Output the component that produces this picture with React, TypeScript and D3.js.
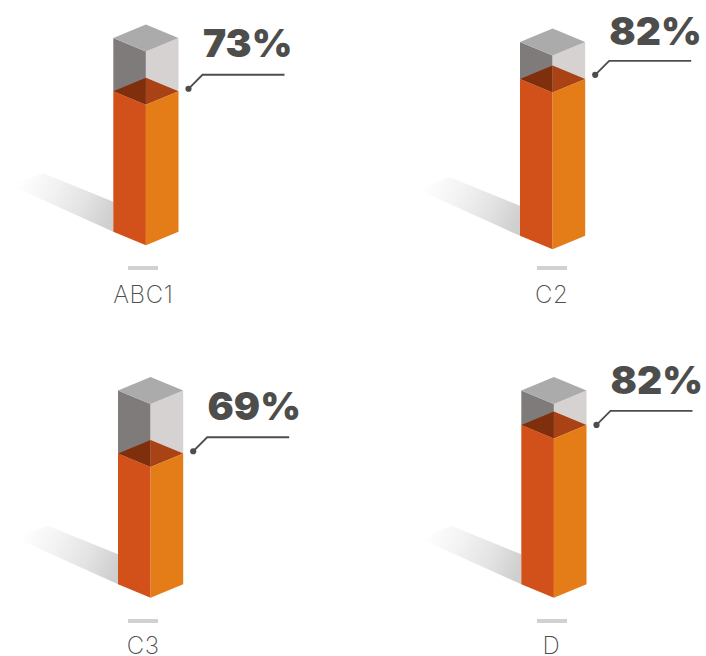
import React from "react";
import * as d3 from "d3";

const categories = ["ABC1", "C2", "C3", "D"];
const percentLabels = ["73%", "82%", "69%", "82%"];
// fill level of each column, in percent of the column height
const fillLevels = [72.6, 80.9, 67.5, 82.3];

// anchor layout of each small multiple: left edge of column and y of the lowest corner
const originX = [113.3, 520, 118, 521.3];
const originY = [245.3, 249.3, 597.8, 597.8];
const labelX = [143.3, 551.7, 143.3, 551.3];
const labelY = [302.6, 302.6, 654.4, 654.4];
const dashX = [143, 552, 143, 552];
const dashY = [268, 268, 621, 621];
const pctX = [203, 609.3, 207.5, 610.5];
const pctY = [56.8, 44.6, 420, 394.2];
const dotOffset = [-2.4, -4.3, -2.3, 0];

const COL_W = 32.6;
const DROP = 13.5;
const H = 193.7;

const heightScale = d3.scaleLinear().domain([0, 100]).range([0, H]);
const line = d3.line<[number, number]>();
const poly = (pts: [number, number][]) => line(pts) + "Z";

function Bar({ i }: { i: number }) {
  const x0 = originX[i];
  const xm = x0 + COL_W;
  const x1 = xm + COL_W;
  const yb = originY[i];
  const face = (low: number, up: number, left: boolean): [number, number][] =>
    left
      ? [[x0, yb - DROP - low], [xm, yb - low], [xm, yb - up], [x0, yb - DROP - up]]
      : [[xm, yb - low], [x1, yb - DROP - low], [x1, yb - DROP - up], [xm, yb - up]];
  const cap = (h: number): [number, number][] => [
    [x0, yb - DROP - h], [xm, yb - 2 * DROP - h], [x1, yb - DROP - h], [xm, yb - h],
  ];
  const fill = heightScale(fillLevels[i]);
  const ty = yb - fill - DROP;
  const dotY = ty + dotOffset[i];
  const lineY = dotY - 14;
  const dotX = x1 + 10;
  return (
    <g>
      <polygon
        points={[[x0, yb - DROP], [x0, yb - DROP - 30], [x0 - 70, yb - DROP - 58.5], [x0 - 103, yb - DROP - 46.5]].join(" ")}
        fill="url(#shadow)"
      />
      <path d={poly(face(fill, H, true))} fill="#7f7b7a" />
      <path d={poly(face(fill, H, false))} fill="#d5d2d1" />
      <path d={poly(cap(H))} fill="#ababab" />
      <path d={poly([[x0, ty], [xm, ty - DROP], [xm, ty + DROP]])} fill="#7f2f0c" />
      <path d={poly([[xm, ty - DROP], [x1, ty], [xm, ty + DROP]])} fill="#a94214" />
      <path d={poly(face(0, fill, true))} fill="#d25019" />
      <path d={poly(face(0, fill, false))} fill="#e47c17" />
      <path
        d={line([[dotX, dotY], [dotX + 14, lineY], [dotX + 96, lineY]])!}
        fill="none"
        stroke="#4d4d4c"
        strokeWidth={1.8}
      />
      <circle cx={dotX} cy={dotY} r={3.1} fill="#4d4d4c" />
      <text x={pctX[i]} y={pctY[i]} fontFamily="Inter" fontWeight={900} fontSize={39} fill="#4d4d4c">
        {percentLabels[i]}
      </text>
      <rect x={dashX[i] - 15} y={dashY[i] - 2} width={30} height={4} fill="#d3d0d0" />
      <text x={labelX[i]} y={labelY[i]} textAnchor="middle" fontFamily="Inter" fontWeight={200} fontSize={24} letterSpacing={0.6} fill="#4d4d4d">
        {categories[i]}
      </text>
    </g>
  );
}

export default function App() {
  return (
    <svg width={706} height={656} style={{ position: "absolute", left: 0, top: 0 }}>
      <defs>
        <linearGradient id="shadow" x1="1" y1="0.65" x2="0" y2="0.4">
          <stop offset="0" stopColor="#d0cfcf" />
          <stop offset="0.3" stopColor="#e4e3e3" />
          <stop offset="0.65" stopColor="#f4f3f3" />
          <stop offset="1" stopColor="#ffffff" />
        </linearGradient>
      </defs>
      {categories.map((_, i) => (
        <Bar key={i} i={i} />
      ))}
    </svg>
  );
}
